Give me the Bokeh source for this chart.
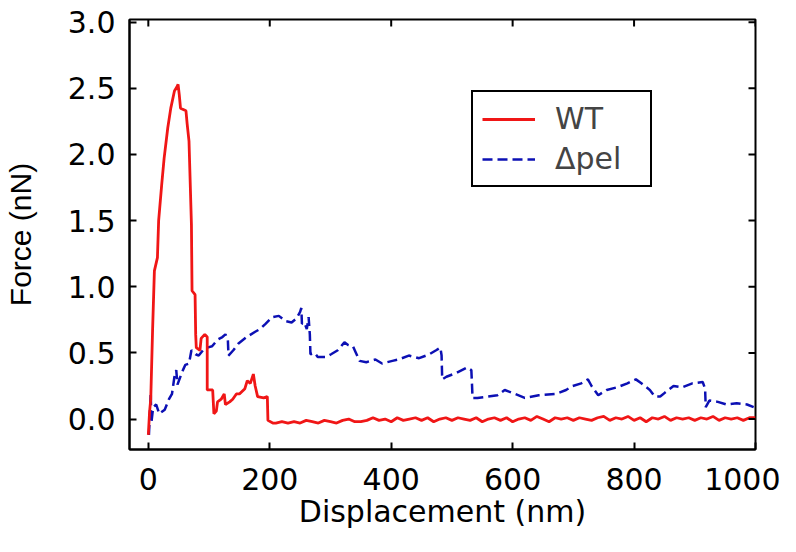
from bokeh.plotting import figure
from bokeh.models import Range1d, Legend, LegendItem, FixedTicker, NumeralTickFormatter
from bokeh.embed import file_html
from bokeh.resources import INLINE

# ---- data ----
wt_x = [0, 2, 4, 7, 10, 15, 17, 22, 26, 32, 37, 43, 47, 49, 51, 53, 62, 64, 67, 71,
        72, 77, 78, 79, 85, 87, 93, 97, 97, 106, 108, 112, 114, 120, 125, 127, 134, 139,
        145, 150, 159, 163, 168, 173, 176, 180, 190, 196, 197, 205,
        210, 220, 230, 240, 250, 260, 270, 280, 290, 300, 310, 320, 330, 340, 350, 360,
        370, 380, 390, 400, 410, 420, 430, 440, 450, 460, 470, 480, 490, 500, 510, 520,
        530, 540, 550, 560, 570, 580, 590, 600, 610, 620, 630, 640, 650, 660, 670, 680,
        690, 700, 710, 720, 730, 740, 750, 760, 770, 780, 790, 800, 810, 820, 830, 840,
        850, 860, 870, 880, 890, 900, 910, 920, 930, 940, 950, 960, 970, 980, 990, 1000]
wt_y = [-0.12, 0.05, 0.15, 0.67, 1.12, 1.22, 1.50, 1.77, 1.97, 2.20, 2.35, 2.48, 2.51, 2.53,
        2.45, 2.35, 2.33, 2.23, 2.10, 1.47, 0.97, 0.94, 0.64, 0.54, 0.52, 0.61, 0.64, 0.62,
        0.22, 0.22, 0.04, 0.06, 0.13, 0.15, 0.19, 0.11, 0.13, 0.15, 0.19, 0.19, 0.23, 0.29,
        0.27, 0.34, 0.25, 0.17, 0.16, 0.17, -0.01, -0.03,
        -0.03, -0.02, -0.03, -0.02, -0.03, -0.01, -0.02, -0.03, -0.01, -0.02, -0.03, -0.01,
        0.00, -0.02, -0.02, -0.01, 0.01, -0.01, 0.00, -0.02, 0.01, -0.01, 0.00, 0.01, -0.01,
        0.01, -0.02, 0.00, 0.01, -0.01, 0.01, 0.00, -0.01, 0.01, -0.02, 0.00, 0.01, -0.01,
        0.01, -0.02, 0.00, 0.01, -0.01, 0.02, 0.00, -0.02, 0.01, 0.00, 0.01, -0.01, 0.01,
        0.00, -0.01, 0.01, 0.02, -0.01, 0.01, 0.00, 0.02, -0.01, 0.01, -0.02, 0.01, 0.00,
        0.02, -0.01, 0.01, 0.00, 0.01, -0.01, 0.01, 0.00, 0.02, -0.01, 0.01, 0.00, 0.01,
        -0.01, 0.01, 0.01]

pel_x = [1, 4, 5, 8, 13, 18, 27, 34, 39, 43, 46, 48, 52, 57, 61, 67, 71, 78, 83, 90, 97,
         105, 114, 122, 127, 131, 132, 140, 148, 162, 176, 184, 193, 204, 215, 226, 236,
         244, 250, 252, 253, 257, 261, 264, 266, 267, 274, 279, 293, 301, 312, 323, 329,
         337, 342, 348, 359, 374, 385, 402, 412, 429, 446, 463, 474, 481, 483, 484, 491,
         508, 525, 532, 533, 534, 542, 559, 575, 587, 604, 620, 643, 671, 688, 699, 713,
         724, 730, 741, 755, 772, 789, 803, 812, 826, 834, 843, 851, 865, 879, 896, 913,
         917, 918, 924, 938, 952, 969, 986, 997]
pel_y = [-0.12, 0.20, -0.03, 0.09, 0.11, 0.04, 0.07, 0.15, 0.19, 0.32, 0.37, 0.26, 0.31,
         0.37, 0.41, 0.42, 0.52, 0.49, 0.48, 0.52, 0.54, 0.55, 0.60, 0.62, 0.64, 0.60, 0.48,
         0.52, 0.57, 0.62, 0.66, 0.68, 0.72, 0.77, 0.78, 0.74, 0.73, 0.76, 0.81, 0.84, 0.72,
         0.73, 0.68, 0.77, 0.64, 0.49, 0.50, 0.47, 0.47, 0.49, 0.52, 0.58, 0.56, 0.55, 0.50,
         0.44, 0.43, 0.45, 0.42, 0.44, 0.45, 0.48, 0.46, 0.49, 0.52, 0.54, 0.48, 0.30, 0.32,
         0.35, 0.39, 0.37, 0.27, 0.16, 0.16, 0.17, 0.18, 0.22, 0.19, 0.16, 0.18, 0.19, 0.22,
         0.25, 0.27, 0.30, 0.25, 0.18, 0.22, 0.24, 0.27, 0.30, 0.27, 0.22, 0.17, 0.17, 0.20,
         0.25, 0.24, 0.27, 0.28, 0.23, 0.09, 0.14, 0.13, 0.11, 0.12, 0.11, 0.09]

x_ticks = [0, 200, 400, 600, 800, 1000]
y_ticks = [0.0, 0.5, 1.0, 1.5, 2.0, 2.5, 3.0]
labels = ["WT", "Δpel"]
x_label = "Displacement (nm)"
y_label = "Force (nN)"

RED = "#f01616"
BLUE = "#0c10b4"
FONT = "DejaVu Sans"
FONT_Y = "Liberation Sans"
FS = "30px"

X0, X1 = -31, 1000
Y0, Y1 = -0.23, 3.02
W, H = 780, 538
BL, BR, BT, BB = 129, 25, 19, 89
TICK = 7  # px

p = figure(width=W, height=H, output_backend="svg", toolbar_location=None,
           x_range=Range1d(X0, X1), y_range=Range1d(Y0, Y1),
           min_border_left=BL, min_border_right=BR, min_border_top=BT,
           min_border_bottom=BB)
p.grid.visible = False
p.outline_line_color = "black"
p.outline_line_width = 2
p.outline_line_alpha = 1
p.background_fill_color = "white"
p.border_fill_color = "white"

r_pel = p.line(pel_x, pel_y, line_color=BLUE, line_width=2.5, line_dash="10 5")
r_wt = p.line(wt_x, wt_y, line_color=RED, line_width=2.8)

# mirrored inward ticks on top and right edges of the frame
dx = (X1 - X0) / (W - BL - BR) * TICK
dy = (Y1 - Y0) / (H - BT - BB) * TICK
p.segment(x0=x_ticks, y0=[Y1] * len(x_ticks), x1=x_ticks, y1=[Y1 - dy] * len(x_ticks),
          line_color="black", line_width=2)
p.segment(x0=[X1] * len(y_ticks), y0=y_ticks, x1=[X1 - dx] * len(y_ticks), y1=y_ticks,
          line_color="black", line_width=2)

p.xaxis.ticker = FixedTicker(ticks=x_ticks)
p.yaxis.ticker = FixedTicker(ticks=y_ticks)
p.yaxis.formatter = NumeralTickFormatter(format="0.0")

for ax in p.axis:
    ax.axis_line_width = 2
    ax.axis_line_color = "black"
    ax.major_tick_line_width = 2
    ax.major_tick_line_color = "black"
    ax.major_tick_in = TICK
    ax.major_tick_out = 0
    ax.minor_tick_line_color = None
    ax.major_label_text_font = FONT
    ax.major_label_text_font_size = FS
    ax.major_label_text_color = "black"
    ax.axis_label_text_font = FONT
    ax.axis_label_text_font_size = FS
    ax.axis_label_text_font_style = "normal"
    ax.axis_label_text_color = "black"

p.xaxis.axis_label = x_label
p.xaxis.major_label_standoff = 18
p.xaxis.axis_label_standoff = 1
p.yaxis.axis_label = y_label
p.yaxis.axis_label_text_font = FONT_Y
p.yaxis.major_label_standoff = 14
p.yaxis.axis_label_standoff = 28

legend = Legend(items=[LegendItem(label=labels[0], renderers=[r_wt]),
                       LegendItem(label=labels[1], renderers=[r_pel])],
                location=(342, 262))
legend.border_line_color = "black"
legend.border_line_width = 2
legend.border_line_alpha = 1
legend.background_fill_color = "white"
legend.background_fill_alpha = 1
legend.label_text_font = FONT
legend.label_text_font_size = FS
legend.glyph_width = 53
legend.glyph_height = 34
legend.label_height = 34
legend.label_width = 86
legend.label_standoff = 20
legend.padding = 9
legend.spacing = 5
legend.margin = 0
p.add_layout(legend, "center")

open("out.html", "w").write(file_html(p, INLINE))
